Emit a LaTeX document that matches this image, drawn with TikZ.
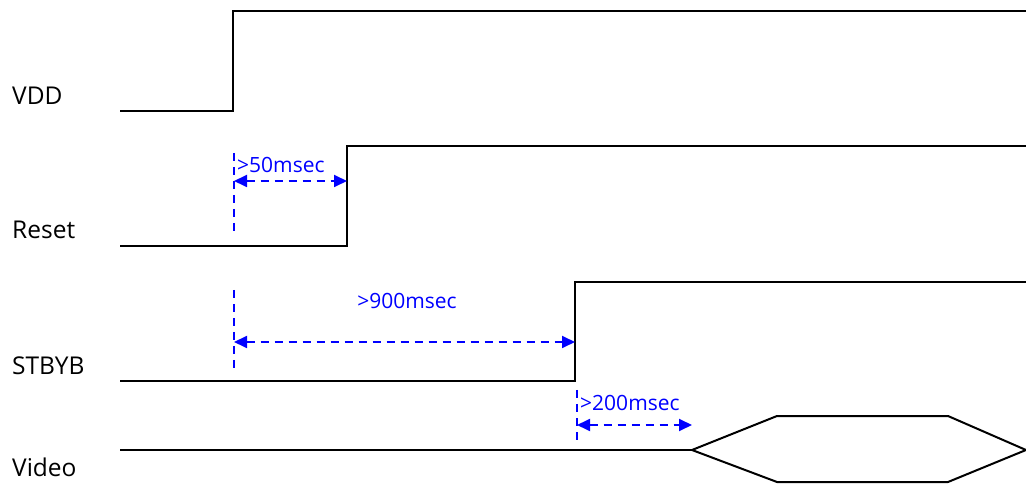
\documentclass[tikz,border=0pt]{standalone}
\usepackage{fontspec}
\setmainfont{Open Sans}
\usetikzlibrary{arrows.meta}
\begin{document}
\begin{tikzpicture}[x=1pt,y=-1pt,
  sig/.style={line width=2pt,black,line join=miter},
  guide/.style={blue,line width=1.8pt,dash pattern=on 8pt off 6pt},
  span/.style={blue,line width=1.8pt,dash pattern=on 8pt off 6pt,{Triangle[length=13pt,width=12pt]}-{Triangle[length=13pt,width=12pt]}},
  lbl/.style={anchor=base west,inner sep=0pt,font=\fontsize{24.5}{28}\selectfont},
  note/.style={inner sep=0pt,text=blue,font=\fontsize{21}{24}\selectfont}]
\useasboundingbox (0,0) rectangle (1026,486);
\fill[white] (0,0) rectangle (1026,486);
% labels
\node[lbl] (vdd) at (12,105) {VDD};
\node[lbl] (rst) at (12,239) {Reset};
\node[lbl] (stb) at (12,374) {STBYB};
\node[lbl] (vid) at (12,476) {Video};
% signals
\draw[sig] (120,111) -- (233,111) -- (233,11) -- (1030,11);
\draw[sig] (120,246) -- (347,246) -- (347,146) -- (1030,146);
\draw[sig] (120,381) -- (575,381) -- (575,282) -- (1030,282);
\draw[sig] (120,450) -- (692,450);
\draw[sig] (692,450) -- (777,416) -- (948,416) -- (1026,450) -- (948,482) -- (777,482) -- cycle;
% coordinates
\coordinate (a1) at (234,181);
\coordinate (b1) at (347,181);
\coordinate (a2) at (234,342);
\coordinate (b2) at (575,342);
\coordinate (a3) at (577,425);
\coordinate (b3) at (692,425);
% guides
\draw[guide] (234,153) -- (234,233);
\draw[guide] (234,290) -- (234,372);
\draw[guide] (577,390) -- (577,440);
% spans
\draw[span] (a1) -- (b1);
\draw[span] (a2) -- (b2);
\draw[span] (a3) -- (b3);
% notes
\node[note,anchor=west] (n1) at (237,165) {>50msec};
\node[note] (n2) at (407,301) {>900msec};
\node[note,anchor=west] (n3) at (580,403) {>200msec};
\end{tikzpicture}
\end{document}
